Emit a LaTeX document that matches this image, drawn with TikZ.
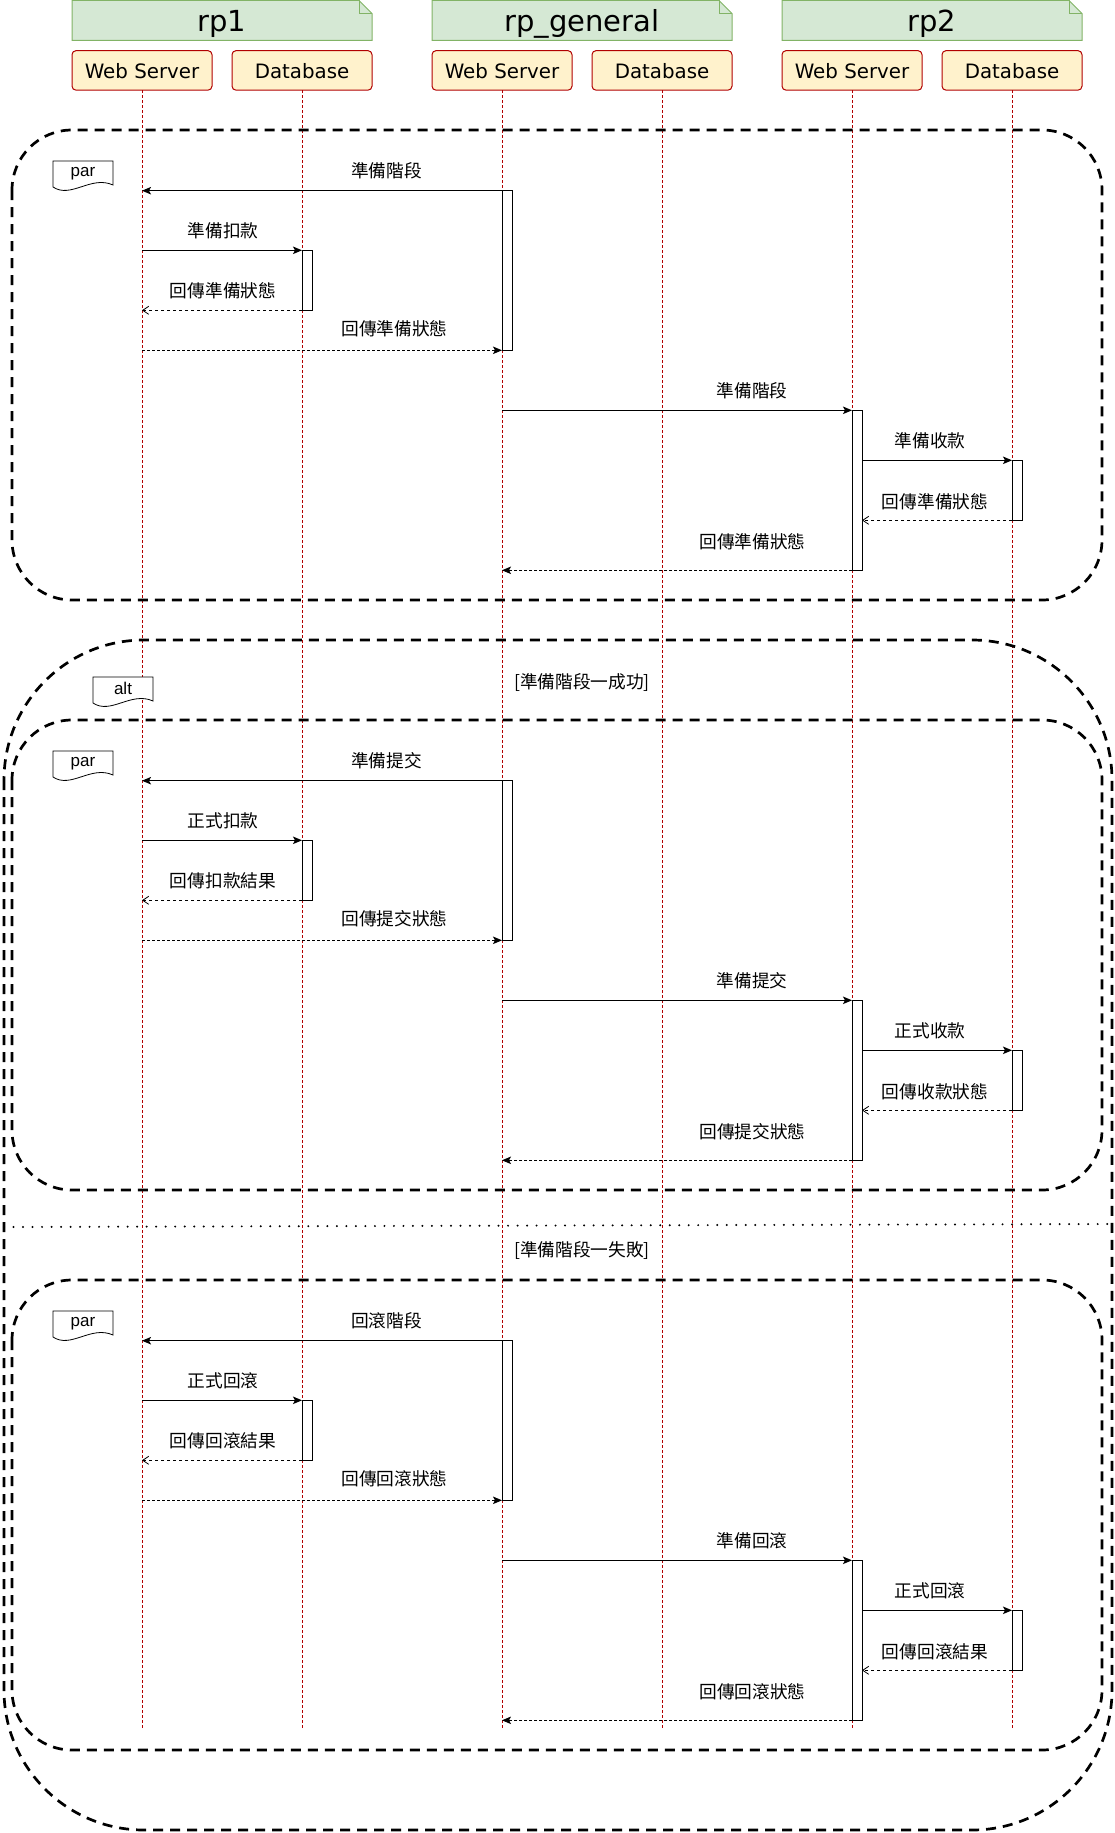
\documentclass[tikz,border=0pt]{standalone}
\usepackage{fontspec}
\setmainfont{DejaVu Sans}
\newfontfamily\cjkfont{Noto Sans CJK TC}
\newfontfamily\arialfont{Liberation Sans}
\usetikzlibrary{arrows.meta}
\definecolor{hdrfill}{HTML}{D5E8D4}
\definecolor{hdrline}{HTML}{82B366}
\definecolor{pfill}{HTML}{FFF2CC}
\definecolor{pline}{HTML}{B20000}

\tikzset{
 hdrshape/.style={fill=hdrfill,draw=hdrline,line width=1pt},
 hdrfold/.style={draw=hdrline,line width=1pt},
 hdrtext/.style={font=\fontsize{29}{31}\selectfont,anchor=base,inner sep=0},
 pbox/.style={fill=pfill,draw=pline,line width=1pt,rounded corners=4pt,minimum width=140pt,minimum height=39.5pt,inner sep=0,outer sep=0},
 ptext/.style={font=\fontsize{19.8}{22}\selectfont,anchor=base,inner sep=0},
 lifeline/.style={draw=pline,line width=0.9pt,dash pattern=on 3pt off 2pt},
 act/.style={draw=black,fill=white,line width=1pt,minimum width=10pt,inner sep=0,outer sep=0,anchor=north west},
 msg/.style={draw=black,line width=1.1pt,-{Stealth[length=9pt,width=7.5pt,inset=2pt]}},
 retopen/.style={draw=black,line width=0.9pt,dash pattern=on 3.5pt off 2.5pt,-{Straight Barb[length=6pt,width=8pt,line width=0.8pt]}},
 retblock/.style={draw=black,line width=0.9pt,dash pattern=on 3pt off 2pt,-{Stealth[length=9pt,width=7.5pt,inset=2pt]}},
 lbl/.style={font=\cjkfont\fontsize{17.7}{20}\selectfont,inner sep=0},
 fragframe/.style={draw=black,line width=2.7pt,dash pattern=on 10pt off 7pt},
 fragtag/.style={draw=black,fill=white,line width=0.8pt},
 fragtext/.style={font=\arialfont\fontsize{17}{19}\selectfont,inner sep=0},
 sepline/.style={draw=black,line width=2.2pt,dash pattern=on 0.01pt off 9.5pt,line cap=round},
 guard/.style={font=\cjkfont\fontsize{17.7}{20}\selectfont,inner sep=0},
}

% #1 prefix, #2..#9 message texts
\newcommand\fragblock[9]{%
 \draw[fragframe,rounded corners=60pt] (12,130) rectangle (1102,600);
 \begin{scope}[shift={(53,161)}]
  \draw[fragtag] (0,26) -- (0,0) -- (60,0) -- (60,24) .. controls (38,14) and (18,38) .. (0,26) -- cycle;
  \node[fragtext] (#1tag) at (30,12.4) {par};
 \end{scope}
 \node[act,minimum height=159.6pt] (#1g) at (502,190.7) {};
 \node[act,minimum height=60pt] (#1d) at (302,250.3) {};
 \node[act,minimum height=160pt] (#1w) at (852,410.3) {};
 \node[act,minimum height=60pt] (#1e) at (1012,460.3) {};
 \draw[msg] (#1g.north west) -- (p1.south |- #1g.north west);
 \node[lbl] (#1t1) at (386.5,171.2) {#2};
 \draw[msg] (p1.south |- #1d.north west) -- (#1d.north west);
 \node[lbl] (#1t2) at (223,230.8) {#3};
 \draw[retopen] (#1d.south west) -- (p1.south |- #1d.south west);
 \node[lbl] (#1t3) at (223,290.8) {#4};
 \draw[retblock] (p1.south |- #1g.south west) -- (#1g.south west);
 \node[lbl] (#1t4) at (394.5,329) {#5};
 \draw[msg] (#1g.west |- #1w.north west) -- (#1w.north west);
 \node[lbl] (#1t5) at (752,390.8) {#6};
 \draw[msg] (#1w.east |- #1e.north west) -- (#1e.north west);
 \node[lbl] (#1t6) at (930,440.8) {#7};
 \draw[retopen] (#1e.south west) -- (#1w.east |- #1e.south west);
 \node[lbl] (#1t7) at (935,501.5) {#8};
 \draw[retblock] (#1w.south west) -- (#1g.west |- #1w.south west);
 \node[lbl] (#1t8) at (752.5,541.5) {#9};
}

\begin{document}
\begin{tikzpicture}[x=1pt,y=-1pt]
\useasboundingbox (0,0) rectangle (1115,1833);

% headers
\draw[hdrshape] (72,40.5) -- (72,0.5) -- (359,0.5) -- (372,13.5) -- (372,40.5) -- cycle;
\draw[hdrfold] (359,0.5) -- (359,13.5) -- (372,13.5);
\node[hdrtext] (h1) at (222,31.7) {rp1};
\draw[hdrshape] (432,40.5) -- (432,0.5) -- (719,0.5) -- (732,13.5) -- (732,40.5) -- cycle;
\draw[hdrfold] (719,0.5) -- (719,13.5) -- (732,13.5);
\node[hdrtext] (h2) at (582,31.7) {rp\_general};
\draw[hdrshape] (782,40.5) -- (782,0.5) -- (1069,0.5) -- (1082,13.5) -- (1082,40.5) -- cycle;
\draw[hdrfold] (1069,0.5) -- (1069,13.5) -- (1082,13.5);
\node[hdrtext] (h3) at (932,31.7) {rp2};

% participants
\node[pbox] (p1) at (142,70.4) {};
\node[pbox] (p2) at (302,70.4) {};
\node[pbox] (p3) at (502,70.4) {};
\node[pbox] (p4) at (662,70.4) {};
\node[pbox] (p5) at (852,70.4) {};
\node[pbox] (p6) at (1012,70.4) {};
\node[ptext] (p1t) at (142,79) {Web Server};
\node[ptext] (p2t) at (302,79) {Database};
\node[ptext] (p3t) at (502,79) {Web Server};
\node[ptext] (p4t) at (662,79) {Database};
\node[ptext] (p5t) at (852,79) {Web Server};
\node[ptext] (p6t) at (1012,79) {Database};

% lifelines
\coordinate (e1) at (142,1730);
\coordinate (e2) at (302,1730);
\coordinate (e3) at (502,1730);
\coordinate (e4) at (662,1730);
\coordinate (e5) at (852,1730);
\coordinate (e6) at (1012,1730);
\draw[lifeline] (p1.south) -- (e1);
\draw[lifeline] (p2.south) -- (e2);
\draw[lifeline] (p3.south) -- (e3);
\draw[lifeline] (p4.south) -- (e4);
\draw[lifeline] (p5.south) -- (e5);
\draw[lifeline] (p6.south) -- (e6);

% alt frame
\draw[fragframe,rounded corners=140pt] (4,640) rectangle (1112,1830);
\begin{scope}[shift={(93,677)}]
 \draw[fragtag] (0,26) -- (0,0) -- (60,0) -- (60,24) .. controls (38,14) and (18,38) .. (0,26) -- cycle;
 \node[fragtext] (alttag) at (30,11) {alt};
\end{scope}
\node[guard] (g1) at (582,683) {[準備階段一成功]};
\coordinate (s1) at (4,1227);
\coordinate (s2) at (1112,1224);
\draw[sepline] (s1) -- (s2);
\node[guard] (g2) at (582,1251) {[準備階段一失敗]};

% par blocks
\fragblock{a}{準備階段}{準備扣款}{回傳準備狀態}{回傳準備狀態}{準備階段}{準備收款}{回傳準備狀態}{回傳準備狀態}
\begin{scope}[shift={(0,590)}]
\fragblock{b}{準備提交}{正式扣款}{回傳扣款結果}{回傳提交狀態}{準備提交}{正式收款}{回傳收款狀態}{回傳提交狀態}
\end{scope}
\begin{scope}[shift={(0,1150)}]
\fragblock{c}{回滾階段}{正式回滾}{回傳回滾結果}{回傳回滾狀態}{準備回滾}{正式回滾}{回傳回滾結果}{回傳回滾狀態}
\end{scope}
\end{tikzpicture}
\end{document}
